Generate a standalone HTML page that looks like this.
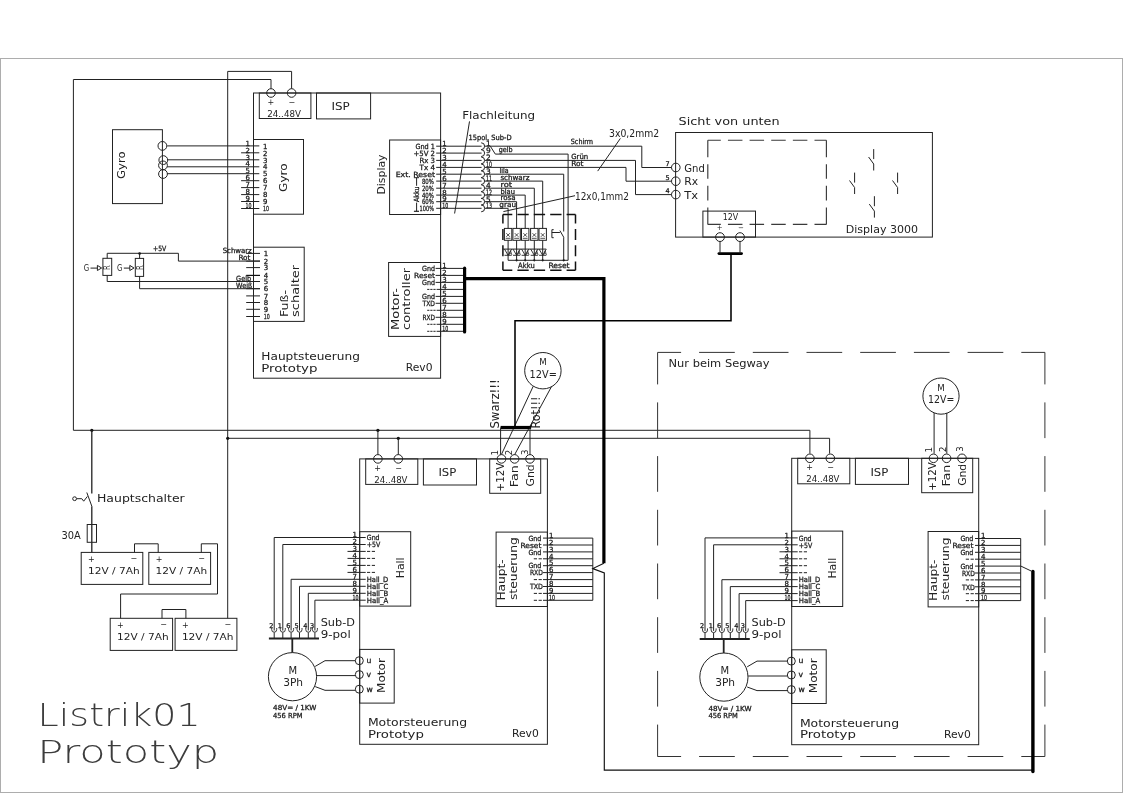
<!DOCTYPE html>
<html><head><meta charset="utf-8"><title>Listrik01 Prototyp</title>
<style>
html,body{margin:0;padding:0;background:#fff;}
svg{display:block;will-change:transform}
.t{font-family:"DejaVu Sans","Liberation Sans",sans-serif;fill:#222;}
.s{font-family:"DejaVu Sans","Liberation Sans",sans-serif;fill:#111;stroke:#222;stroke-width:0.28px;}
.big{font-family:"DejaVu Sans Light","DejaVu Sans","Liberation Sans",sans-serif;font-weight:200;fill:#3c3c3c;}
</style></head><body>
<svg width="1123" height="793" viewBox="0 0 1123 793">
<rect x="0" y="0" width="1123" height="793" fill="#fff"/>
<rect x="0.5" y="58.5" width="1122.0" height="734.0" fill="none" stroke="#adadad" stroke-width="1" />
<rect x="253.5" y="93.0" width="187.1" height="285.2" fill="none" stroke="#222" stroke-width="1.0" />
<rect x="259.3" y="93.0" width="51.6" height="25.5" fill="none" stroke="#222" stroke-width="1.0" />
<circle cx="271.0" cy="93.0" r="4.3" fill="none" stroke="#222" stroke-width="1.0"/>
<circle cx="291.6" cy="93.0" r="4.3" fill="none" stroke="#222" stroke-width="1.0"/>
<text class="t" x="270.8" y="105.3" font-size="8" text-anchor="middle">+</text>
<text class="t" x="291.8" y="104.8" font-size="8" text-anchor="middle">−</text>
<text class="t" x="267.3" y="116.6" font-size="8.5" textLength="33.6" lengthAdjust="spacingAndGlyphs">24..48V</text>
<rect x="316.5" y="93.0" width="54.1" height="25.9" fill="none" stroke="#222" stroke-width="1.0" />
<text class="t" x="331.5" y="110.3" font-size="11.0" textLength="18.3" lengthAdjust="spacingAndGlyphs">ISP</text>
<rect x="253.5" y="139.5" width="50.0" height="74.7" fill="none" stroke="#222" stroke-width="1.0" />
<line x1="167.2" y1="145.9" x2="259.3" y2="145.9" stroke="#222" stroke-width="1.0" />
<text class="s" x="245.6" y="145.6" font-size="6.96">1</text>
<text class="s" x="263.0" y="148.6" font-size="6.96">1</text>
<line x1="241.1" y1="152.8" x2="259.3" y2="152.8" stroke="#222" stroke-width="1.0" />
<text class="s" x="245.6" y="152.5" font-size="6.96">2</text>
<text class="s" x="263.0" y="155.5" font-size="6.96">2</text>
<line x1="167.2" y1="159.8" x2="259.3" y2="159.8" stroke="#222" stroke-width="1.0" />
<text class="s" x="245.6" y="159.5" font-size="6.96">3</text>
<text class="s" x="263.0" y="162.5" font-size="6.96">3</text>
<line x1="167.2" y1="166.8" x2="259.3" y2="166.8" stroke="#222" stroke-width="1.0" />
<text class="s" x="245.6" y="166.4" font-size="6.96">4</text>
<text class="s" x="263.0" y="169.4" font-size="6.96">4</text>
<line x1="167.2" y1="173.7" x2="259.3" y2="173.7" stroke="#222" stroke-width="1.0" />
<text class="s" x="245.6" y="173.4" font-size="6.96">5</text>
<text class="s" x="263.0" y="176.4" font-size="6.96">5</text>
<line x1="241.1" y1="180.7" x2="259.3" y2="180.7" stroke="#222" stroke-width="1.0" />
<text class="s" x="245.6" y="180.3" font-size="6.96">6</text>
<text class="s" x="263.0" y="183.3" font-size="6.96">6</text>
<line x1="241.1" y1="187.6" x2="259.3" y2="187.6" stroke="#222" stroke-width="1.0" />
<text class="s" x="245.6" y="187.3" font-size="6.96">7</text>
<text class="s" x="263.0" y="190.3" font-size="6.96">7</text>
<line x1="241.1" y1="194.6" x2="259.3" y2="194.6" stroke="#222" stroke-width="1.0" />
<text class="s" x="245.6" y="194.2" font-size="6.96">8</text>
<text class="s" x="263.0" y="197.2" font-size="6.96">8</text>
<line x1="241.1" y1="201.5" x2="259.3" y2="201.5" stroke="#222" stroke-width="1.0" />
<text class="s" x="245.6" y="201.2" font-size="6.96">9</text>
<text class="s" x="263.0" y="204.2" font-size="6.96">9</text>
<line x1="241.1" y1="208.5" x2="259.3" y2="208.5" stroke="#222" stroke-width="1.0" />
<text class="s" x="245.6" y="208.2" font-size="6.96" textLength="6.0" lengthAdjust="spacingAndGlyphs">10</text>
<text class="s" x="263.0" y="211.2" font-size="6.96" textLength="6.0" lengthAdjust="spacingAndGlyphs">10</text>
<text class="t" x="287.5" y="191.9" font-size="10.4" textLength="28.4" lengthAdjust="spacingAndGlyphs" transform="rotate(-90 287.5 191.9)">Gyro</text>
<rect x="112.5" y="129.7" width="49.9" height="73.9" fill="none" stroke="#222" stroke-width="1.0" />
<circle cx="162.4" cy="145.9" r="4.4" fill="none" stroke="#222" stroke-width="1.0"/>
<circle cx="163.3" cy="160.1" r="4.4" fill="none" stroke="#222" stroke-width="1.0"/>
<circle cx="163.0" cy="165.4" r="4.4" fill="none" stroke="#222" stroke-width="1.0"/>
<circle cx="163.0" cy="174.0" r="4.4" fill="none" stroke="#222" stroke-width="1.0"/>
<text class="t" x="125.2" y="178.9" font-size="10.4" textLength="27.4" lengthAdjust="spacingAndGlyphs" transform="rotate(-90 125.2 178.9)">Gyro</text>
<rect x="253.5" y="247.2" width="50.7" height="74.2" fill="none" stroke="#222" stroke-width="1.0" />
<line x1="246.2" y1="253.4" x2="260.0" y2="253.4" stroke="#222" stroke-width="1.0" />
<text class="s" x="263.7" y="256.1" font-size="6.96">1</text>
<line x1="246.2" y1="261.1" x2="260.0" y2="261.1" stroke="#222" stroke-width="1.0" />
<text class="s" x="263.7" y="263.8" font-size="6.96">2</text>
<line x1="246.2" y1="267.6" x2="260.0" y2="267.6" stroke="#222" stroke-width="1.0" />
<text class="s" x="263.7" y="270.3" font-size="6.96">3</text>
<line x1="246.2" y1="275.4" x2="260.0" y2="275.4" stroke="#111" stroke-width="1.2" />
<text class="s" x="263.7" y="278.1" font-size="6.96">4</text>
<line x1="246.2" y1="281.5" x2="260.0" y2="281.5" stroke="#222" stroke-width="1.0" />
<text class="s" x="263.7" y="284.2" font-size="6.96">5</text>
<line x1="246.2" y1="288.7" x2="260.0" y2="288.7" stroke="#222" stroke-width="1.0" />
<text class="s" x="263.7" y="291.4" font-size="6.96">6</text>
<line x1="246.2" y1="295.9" x2="260.0" y2="295.9" stroke="#222" stroke-width="1.0" />
<text class="s" x="263.7" y="298.6" font-size="6.96">7</text>
<line x1="246.2" y1="302.5" x2="260.0" y2="302.5" stroke="#222" stroke-width="1.0" />
<text class="s" x="263.7" y="305.2" font-size="6.96">8</text>
<line x1="246.2" y1="309.3" x2="260.0" y2="309.3" stroke="#222" stroke-width="1.0" />
<text class="s" x="263.7" y="312.0" font-size="6.96">9</text>
<line x1="246.2" y1="316.5" x2="260.0" y2="316.5" stroke="#222" stroke-width="1.0" />
<text class="s" x="263.7" y="319.2" font-size="6.96" textLength="6.0" lengthAdjust="spacingAndGlyphs">10</text>
<text class="s" x="222.7" y="252.8" font-size="7.19" textLength="29.0" lengthAdjust="spacingAndGlyphs">Schwarz</text>
<text class="s" x="238.4" y="259.9" font-size="7.19" textLength="12.0" lengthAdjust="spacingAndGlyphs">Rot</text>
<text class="s" x="236.1" y="280.5" font-size="7.19" textLength="15.0" lengthAdjust="spacingAndGlyphs">Gelb</text>
<text class="s" x="236.1" y="287.6" font-size="7.19" textLength="16.0" lengthAdjust="spacingAndGlyphs">Weiß</text>
<text class="t" x="287.8" y="317.0" font-size="10.4" textLength="27.0" lengthAdjust="spacingAndGlyphs" transform="rotate(-90 287.8 317.0)">Fuß-</text>
<text class="t" x="299.3" y="317.0" font-size="10.4" textLength="52.2" lengthAdjust="spacingAndGlyphs" transform="rotate(-90 299.3 317.0)">schalter</text>
<polyline points="107.2,258.3 107.2,253.3 178.4,253.3 178.4,261.1 260.0,261.1" fill="none" stroke="#222" stroke-width="1.0" />
<circle cx="139.6" cy="253.6" r="1.3" fill="#111"/>
<rect x="102.9" y="258.3" width="8.8" height="17.1" fill="none" stroke="#222" stroke-width="1.0" />
<rect x="135.3" y="258.4" width="8.3" height="18.0" fill="none" stroke="#222" stroke-width="1.0" />
<line x1="139.6" y1="253.3" x2="139.6" y2="258.4" stroke="#222" stroke-width="1.0" />
<polyline points="107.2,275.4 107.2,281.5 260.0,281.5" fill="none" stroke="#222" stroke-width="1.0" />
<polyline points="139.6,276.4 139.6,288.7 260.0,288.7" fill="none" stroke="#222" stroke-width="1.0" />
<text class="s" x="153.0" y="250.8" font-size="7.19" textLength="13.3" lengthAdjust="spacingAndGlyphs">+5V</text>
<text class="t" x="83.8" y="270.7" font-size="8.8" textLength="5.4" lengthAdjust="spacingAndGlyphs">G</text>
<line x1="90.5" y1="268.1" x2="97.4" y2="268.1" stroke="#222" stroke-width="1.0" />
<polyline points="97.4,265.4 101.6,268.0 97.4,270.5 97.4,265.4" fill="none" stroke="#222" stroke-width="1.0" />
<text class="t" x="110.3" y="270.1" font-size="8.2" textLength="4.7" lengthAdjust="spacingAndGlyphs" transform="rotate(-90 110.3 270.1)">R</text>
<text class="t" x="117.1" y="270.7" font-size="8.8" textLength="5.4" lengthAdjust="spacingAndGlyphs">G</text>
<line x1="123.8" y1="268.1" x2="129.8" y2="268.1" stroke="#222" stroke-width="1.0" />
<polyline points="129.8,265.4 134.0,268.0 129.8,270.5 129.8,265.4" fill="none" stroke="#222" stroke-width="1.0" />
<text class="t" x="142.7" y="270.1" font-size="8.2" textLength="4.7" lengthAdjust="spacingAndGlyphs" transform="rotate(-90 142.7 270.1)">R</text>
<rect x="389.6" y="140.0" width="51.0" height="74.5" fill="none" stroke="#222" stroke-width="1.0" />
<line x1="436.2" y1="146.2" x2="481.6" y2="146.2" stroke="#222" stroke-width="1.0" />
<text class="s" x="435.0" y="148.8" font-size="7.19" textLength="19.6" lengthAdjust="spacingAndGlyphs" text-anchor="end">Gnd 1</text>
<text class="s" x="442.3" y="145.8" font-size="6.96">1</text>
<path d="M481.2,142.8 A3.4,3.4 0 0 1 481.2,149.6" fill="none" stroke="#222" stroke-width="1"/>
<text class="s" x="486.0" y="146.0" font-size="7.42">1</text>
<line x1="436.2" y1="153.1" x2="481.6" y2="153.1" stroke="#222" stroke-width="1.0" />
<text class="s" x="435.0" y="155.8" font-size="7.19" textLength="21.5" lengthAdjust="spacingAndGlyphs" text-anchor="end">+5V 2</text>
<text class="s" x="442.3" y="152.8" font-size="6.96">2</text>
<path d="M481.2,149.7 A3.4,3.4 0 0 1 481.2,156.5" fill="none" stroke="#222" stroke-width="1"/>
<text class="s" x="486.0" y="152.9" font-size="7.42">9</text>
<line x1="436.2" y1="160.4" x2="481.6" y2="160.4" stroke="#222" stroke-width="1.0" />
<text class="s" x="435.0" y="163.1" font-size="7.19" textLength="15.5" lengthAdjust="spacingAndGlyphs" text-anchor="end">Rx 3</text>
<text class="s" x="442.3" y="160.1" font-size="6.96">3</text>
<path d="M481.2,157.0 A3.4,3.4 0 0 1 481.2,163.8" fill="none" stroke="#222" stroke-width="1"/>
<text class="s" x="486.0" y="160.2" font-size="7.42">2</text>
<line x1="436.2" y1="167.4" x2="481.6" y2="167.4" stroke="#222" stroke-width="1.0" />
<text class="s" x="435.0" y="170.1" font-size="7.19" textLength="15.5" lengthAdjust="spacingAndGlyphs" text-anchor="end">Tx 4</text>
<text class="s" x="442.3" y="167.1" font-size="6.96">4</text>
<path d="M481.2,164.0 A3.4,3.4 0 0 1 481.2,170.8" fill="none" stroke="#222" stroke-width="1"/>
<text class="s" x="486.0" y="167.2" font-size="7.42" textLength="6.0" lengthAdjust="spacingAndGlyphs">10</text>
<line x1="436.2" y1="174.2" x2="481.6" y2="174.2" stroke="#222" stroke-width="1.0" />
<text class="s" x="435.0" y="176.9" font-size="7.19" textLength="39.3" lengthAdjust="spacingAndGlyphs" text-anchor="end">Ext. Reset</text>
<text class="s" x="442.3" y="173.9" font-size="6.96">5</text>
<path d="M481.2,170.8 A3.4,3.4 0 0 1 481.2,177.6" fill="none" stroke="#222" stroke-width="1"/>
<text class="s" x="486.0" y="174.0" font-size="7.42">3</text>
<line x1="436.2" y1="181.1" x2="481.6" y2="181.1" stroke="#222" stroke-width="1.0" />
<text class="s" x="433.9" y="183.8" font-size="7.19" textLength="12.0" lengthAdjust="spacingAndGlyphs" text-anchor="end">80%</text>
<text class="s" x="442.3" y="180.8" font-size="6.96">6</text>
<path d="M481.2,177.7 A3.4,3.4 0 0 1 481.2,184.5" fill="none" stroke="#222" stroke-width="1"/>
<text class="s" x="486.0" y="180.9" font-size="7.42" textLength="6.0" lengthAdjust="spacingAndGlyphs">11</text>
<line x1="436.2" y1="188.2" x2="481.6" y2="188.2" stroke="#222" stroke-width="1.0" />
<text class="s" x="433.9" y="190.9" font-size="7.19" textLength="12.0" lengthAdjust="spacingAndGlyphs" text-anchor="end">20%</text>
<text class="s" x="442.3" y="187.9" font-size="6.96">7</text>
<path d="M481.2,184.8 A3.4,3.4 0 0 1 481.2,191.6" fill="none" stroke="#222" stroke-width="1"/>
<text class="s" x="486.0" y="188.0" font-size="7.42">4</text>
<line x1="436.2" y1="195.1" x2="481.6" y2="195.1" stroke="#222" stroke-width="1.0" />
<text class="s" x="433.9" y="197.8" font-size="7.19" textLength="12.0" lengthAdjust="spacingAndGlyphs" text-anchor="end">40%</text>
<text class="s" x="442.3" y="194.8" font-size="6.96">8</text>
<path d="M481.2,191.7 A3.4,3.4 0 0 1 481.2,198.5" fill="none" stroke="#222" stroke-width="1"/>
<text class="s" x="486.0" y="194.9" font-size="7.42" textLength="6.0" lengthAdjust="spacingAndGlyphs">12</text>
<line x1="436.2" y1="201.7" x2="481.6" y2="201.7" stroke="#222" stroke-width="1.0" />
<text class="s" x="433.9" y="204.4" font-size="7.19" textLength="12.0" lengthAdjust="spacingAndGlyphs" text-anchor="end">60%</text>
<text class="s" x="442.3" y="201.4" font-size="6.96">9</text>
<path d="M481.2,198.3 A3.4,3.4 0 0 1 481.2,205.1" fill="none" stroke="#222" stroke-width="1"/>
<text class="s" x="486.0" y="201.5" font-size="7.42">5</text>
<line x1="436.2" y1="208.3" x2="481.6" y2="208.3" stroke="#222" stroke-width="1.0" />
<text class="s" x="433.9" y="211.0" font-size="7.19" textLength="14.3" lengthAdjust="spacingAndGlyphs" text-anchor="end">100%</text>
<text class="s" x="442.3" y="208.0" font-size="6.96" textLength="6.0" lengthAdjust="spacingAndGlyphs">10</text>
<path d="M481.2,204.9 A3.4,3.4 0 0 1 481.2,211.8" fill="none" stroke="#222" stroke-width="1"/>
<text class="s" x="486.0" y="208.2" font-size="7.42" textLength="6.0" lengthAdjust="spacingAndGlyphs">13</text>
<text class="t" x="385.3" y="194.5" font-size="10.4" textLength="40.0" lengthAdjust="spacingAndGlyphs" transform="rotate(-90 385.3 194.5)">Display</text>
<line x1="416.6" y1="177.7" x2="416.6" y2="185.8" stroke="#222" stroke-width="1.0" />
<line x1="416.6" y1="202.6" x2="416.6" y2="211.3" stroke="#222" stroke-width="1.0" />
<line x1="413.9" y1="177.7" x2="419.0" y2="177.7" stroke="#222" stroke-width="1.0" />
<line x1="413.9" y1="211.3" x2="419.0" y2="211.3" stroke="#222" stroke-width="1.2" />
<text class="s" x="418.5" y="202.0" font-size="7.19" textLength="15.6" lengthAdjust="spacingAndGlyphs" transform="rotate(-90 418.5 202.0)">Akku</text>
<text class="s" x="468.4" y="139.8" font-size="7.19" textLength="43.3" lengthAdjust="spacingAndGlyphs">15pol. Sub-D</text>
<text class="t" x="462.2" y="118.6" font-size="10.6" textLength="73.0" lengthAdjust="spacingAndGlyphs">Flachleitung</text>
<line x1="469.5" y1="121.4" x2="454.6" y2="213.5" stroke="#222" stroke-width="1.0" />
<rect x="388.6" y="262.5" width="52.0" height="73.9" fill="none" stroke="#222" stroke-width="1.0" />
<line x1="435.6" y1="268.4" x2="464.6" y2="268.4" stroke="#222" stroke-width="1.0" />
<text class="s" x="435.0" y="271.1" font-size="7.19" textLength="13.0" lengthAdjust="spacingAndGlyphs" text-anchor="end">Gnd</text>
<text class="s" x="442.3" y="268.1" font-size="6.96">1</text>
<line x1="435.6" y1="275.4" x2="464.6" y2="275.4" stroke="#222" stroke-width="1.0" />
<text class="s" x="435.0" y="278.1" font-size="7.19" textLength="21.0" lengthAdjust="spacingAndGlyphs" text-anchor="end">Reset</text>
<text class="s" x="442.3" y="275.1" font-size="6.96">2</text>
<line x1="435.6" y1="282.4" x2="464.6" y2="282.4" stroke="#222" stroke-width="1.0" />
<text class="s" x="435.0" y="285.1" font-size="7.19" textLength="13.0" lengthAdjust="spacingAndGlyphs" text-anchor="end">Gnd</text>
<text class="s" x="442.3" y="282.1" font-size="6.96">3</text>
<line x1="427.2" y1="289.4" x2="435.6" y2="289.4" stroke="#222" stroke-width="1" stroke-dasharray="2.2 0.9"/>
<line x1="436.6" y1="289.4" x2="464.6" y2="289.4" stroke="#222" stroke-width="1.0" />
<text class="s" x="442.3" y="289.1" font-size="6.96">4</text>
<line x1="435.6" y1="296.4" x2="464.6" y2="296.4" stroke="#222" stroke-width="1.0" />
<text class="s" x="435.0" y="299.1" font-size="7.19" textLength="13.0" lengthAdjust="spacingAndGlyphs" text-anchor="end">Gnd</text>
<text class="s" x="442.3" y="296.1" font-size="6.96">5</text>
<line x1="435.6" y1="303.3" x2="464.6" y2="303.3" stroke="#222" stroke-width="1.0" />
<text class="s" x="435.0" y="306.0" font-size="7.19" textLength="12.5" lengthAdjust="spacingAndGlyphs" text-anchor="end">TXD</text>
<text class="s" x="442.3" y="303.0" font-size="6.96">6</text>
<line x1="427.2" y1="310.3" x2="435.6" y2="310.3" stroke="#222" stroke-width="1" stroke-dasharray="2.2 0.9"/>
<line x1="436.6" y1="310.3" x2="464.6" y2="310.3" stroke="#222" stroke-width="1.0" />
<text class="s" x="442.3" y="310.0" font-size="6.96">7</text>
<line x1="435.6" y1="317.3" x2="464.6" y2="317.3" stroke="#222" stroke-width="1.0" />
<text class="s" x="435.0" y="320.0" font-size="7.19" textLength="12.5" lengthAdjust="spacingAndGlyphs" text-anchor="end">RXD</text>
<text class="s" x="442.3" y="317.0" font-size="6.96">8</text>
<line x1="427.2" y1="324.3" x2="435.6" y2="324.3" stroke="#222" stroke-width="1" stroke-dasharray="2.2 0.9"/>
<line x1="436.6" y1="324.3" x2="464.6" y2="324.3" stroke="#222" stroke-width="1.0" />
<text class="s" x="442.3" y="324.0" font-size="6.96">9</text>
<line x1="427.2" y1="331.3" x2="435.6" y2="331.3" stroke="#222" stroke-width="1" stroke-dasharray="2.2 0.9"/>
<line x1="436.6" y1="331.3" x2="464.6" y2="331.3" stroke="#222" stroke-width="1.0" />
<text class="s" x="442.3" y="331.0" font-size="6.96" textLength="6.0" lengthAdjust="spacingAndGlyphs">10</text>
<text class="t" x="398.9" y="330.0" font-size="10.4" textLength="42.0" lengthAdjust="spacingAndGlyphs" transform="rotate(-90 398.9 330.0)">Motor-</text>
<text class="t" x="410.0" y="330.0" font-size="10.4" textLength="62.0" lengthAdjust="spacingAndGlyphs" transform="rotate(-90 410.0 330.0)">controller</text>
<text class="t" x="261.3" y="359.5" font-size="10.4" textLength="98.7" lengthAdjust="spacingAndGlyphs">Hauptsteuerung</text>
<text class="t" x="261.3" y="372.0" font-size="10.4" textLength="56.2" lengthAdjust="spacingAndGlyphs">Prototyp</text>
<text class="t" x="405.7" y="371.3" font-size="10.4" textLength="26.8" lengthAdjust="spacingAndGlyphs">Rev0</text>
<polyline points="271.0,88.7 271.0,79.5 73.4,79.5 73.4,430.3 809.9,430.3 809.9,453.6" fill="none" stroke="#222" stroke-width="1.0" />
<polyline points="291.6,88.7 291.6,71.4 227.7,71.4 227.7,618.3" fill="none" stroke="#222" stroke-width="1.0" />
<polyline points="227.7,438.3 829.6,438.3 829.6,453.6" fill="none" stroke="#222" stroke-width="1.0" />
<circle cx="91.8" cy="430.3" r="1.6" fill="#111"/>
<circle cx="227.7" cy="438.3" r="1.6" fill="#111"/>
<circle cx="377.9" cy="430.3" r="1.6" fill="#111"/>
<circle cx="398.3" cy="438.3" r="1.6" fill="#111"/>
<line x1="377.9" y1="430.3" x2="377.9" y2="454.6" stroke="#222" stroke-width="1.0" />
<line x1="398.3" y1="438.3" x2="398.3" y2="454.6" stroke="#222" stroke-width="1.0" />
<line x1="91.8" y1="430.3" x2="91.8" y2="493.5" stroke="#222" stroke-width="1.3" />
<line x1="86.8" y1="492.5" x2="91.8" y2="506.2" stroke="#222" stroke-width="1.0" />
<line x1="91.8" y1="506.2" x2="91.8" y2="552.4" stroke="#222" stroke-width="1.3" />
<circle cx="74.6" cy="498.7" r="1.9" fill="none" stroke="#222" stroke-width="1.0"/>
<polyline points="76.8,498.7 81.8,498.7 83.7,501.2 87.4,496.4" fill="none" stroke="#222" stroke-width="1.0" />
<text class="t" x="97.0" y="501.8" font-size="10.4" textLength="87.7" lengthAdjust="spacingAndGlyphs">Hauptschalter</text>
<rect x="87.2" y="524.5" width="9.3" height="17.8" fill="none" stroke="#222" stroke-width="1.0" />
<text class="t" x="61.5" y="538.6" font-size="10.4" textLength="19.3" lengthAdjust="spacingAndGlyphs">30A</text>
<rect x="81.2" y="552.4" width="61.6" height="32.0" fill="none" stroke="#222" stroke-width="1.0" />
<text class="t" x="91.4" y="561.6" font-size="8" text-anchor="middle">+</text>
<text class="t" x="133.8" y="561.2" font-size="8" text-anchor="middle">−</text>
<text class="t" x="88.0" y="573.9" font-size="9" textLength="51.6" lengthAdjust="spacingAndGlyphs">12V / 7Ah</text>
<rect x="148.8" y="552.4" width="61.8" height="32.0" fill="none" stroke="#222" stroke-width="1.0" />
<text class="t" x="159.0" y="561.6" font-size="8" text-anchor="middle">+</text>
<text class="t" x="201.6" y="561.2" font-size="8" text-anchor="middle">−</text>
<text class="t" x="155.6" y="573.9" font-size="9" textLength="51.6" lengthAdjust="spacingAndGlyphs">12V / 7Ah</text>
<rect x="110.2" y="618.3" width="62.4" height="32.1" fill="none" stroke="#222" stroke-width="1.0" />
<text class="t" x="120.4" y="627.5" font-size="8" text-anchor="middle">+</text>
<text class="t" x="163.6" y="627.1" font-size="8" text-anchor="middle">−</text>
<text class="t" x="117.0" y="639.8" font-size="9" textLength="51.6" lengthAdjust="spacingAndGlyphs">12V / 7Ah</text>
<rect x="175.1" y="618.3" width="61.8" height="32.1" fill="none" stroke="#222" stroke-width="1.0" />
<text class="t" x="185.3" y="627.5" font-size="8" text-anchor="middle">+</text>
<text class="t" x="227.9" y="627.1" font-size="8" text-anchor="middle">−</text>
<text class="t" x="181.9" y="639.8" font-size="9" textLength="51.6" lengthAdjust="spacingAndGlyphs">12V / 7Ah</text>
<polyline points="134.5,552.4 134.5,543.8 158.2,543.8 158.2,552.4" fill="none" stroke="#222" stroke-width="1.0" />
<polyline points="201.3,552.4 201.3,543.8 217.5,543.8 217.5,594.0 120.6,594.0 120.6,618.3" fill="none" stroke="#222" stroke-width="1.0" />
<polyline points="162.0,618.3 162.0,609.5 185.9,609.5 185.9,618.3" fill="none" stroke="#222" stroke-width="1.0" />
<text class="big" x="37.6" y="725.6" font-size="32.5" textLength="163.0" lengthAdjust="spacingAndGlyphs">Listrik01</text>
<text class="big" x="37.2" y="763.2" font-size="32.5" textLength="182.0" lengthAdjust="spacingAndGlyphs">Prototyp</text>
<rect x="359.7" y="458.9" width="187.7" height="285.4" fill="none" stroke="#222" stroke-width="1.0" />
<rect x="365.7" y="458.9" width="52.1" height="25.5" fill="none" stroke="#222" stroke-width="1.0" />
<circle cx="377.9" cy="458.9" r="4.3" fill="none" stroke="#222" stroke-width="1.0"/>
<circle cx="398.3" cy="458.9" r="4.3" fill="none" stroke="#222" stroke-width="1.0"/>
<text class="t" x="377.7" y="471.0" font-size="8" text-anchor="middle">+</text>
<text class="t" x="398.5" y="470.6" font-size="8" text-anchor="middle">−</text>
<text class="t" x="374.3" y="482.6" font-size="8.3" textLength="33.2" lengthAdjust="spacingAndGlyphs">24..48V</text>
<rect x="423.4" y="458.9" width="53.1" height="26.1" fill="none" stroke="#222" stroke-width="1.0" />
<text class="t" x="438.4" y="476.1" font-size="10.4" textLength="17.9" lengthAdjust="spacingAndGlyphs">ISP</text>
<rect x="489.7" y="458.9" width="51.0" height="34.4" fill="none" stroke="#222" stroke-width="1.0" />
<circle cx="501.5" cy="458.9" r="4.3" fill="none" stroke="#222" stroke-width="1.0"/>
<circle cx="514.6" cy="458.9" r="4.3" fill="none" stroke="#222" stroke-width="1.0"/>
<circle cx="530.0" cy="458.9" r="4.3" fill="none" stroke="#222" stroke-width="1.0"/>
<text class="t" x="504.3" y="491.4" font-size="10.4" textLength="28.6" lengthAdjust="spacingAndGlyphs" transform="rotate(-90 504.3 491.4)">+12V</text>
<text class="t" x="517.6" y="487.2" font-size="10.4" textLength="22.0" lengthAdjust="spacingAndGlyphs" transform="rotate(-90 517.6 487.2)">Fan</text>
<text class="t" x="533.9" y="486.4" font-size="10.4" textLength="22.0" lengthAdjust="spacingAndGlyphs" transform="rotate(-90 533.9 486.4)">Gnd</text>
<text class="t" x="498.1" y="455.6" font-size="8.6" transform="rotate(-90 498.1 455.6)">1</text>
<text class="t" x="512.2" y="455.2" font-size="8.6" transform="rotate(-90 512.2 455.2)">2</text>
<text class="t" x="528.4" y="455.0" font-size="8.6" transform="rotate(-90 528.4 455.0)">3</text>
<rect x="359.7" y="531.7" width="51.0" height="74.4" fill="none" stroke="#222" stroke-width="1.0" />
<line x1="274.2" y1="537.5" x2="365.7" y2="537.5" stroke="#222" stroke-width="1.0" />
<line x1="274.2" y1="537.5" x2="274.2" y2="630.5" stroke="#222" stroke-width="1.0" />
<text class="s" x="366.8" y="540.2" font-size="7.19" textLength="12.8" lengthAdjust="spacingAndGlyphs">Gnd</text>
<text class="s" x="352.5" y="537.2" font-size="6.96">1</text>
<line x1="282.8" y1="544.5" x2="365.7" y2="544.5" stroke="#222" stroke-width="1.0" />
<line x1="282.8" y1="544.5" x2="282.8" y2="630.5" stroke="#222" stroke-width="1.0" />
<text class="s" x="366.8" y="547.2" font-size="7.19" textLength="13.5" lengthAdjust="spacingAndGlyphs">+5V</text>
<text class="s" x="352.5" y="544.2" font-size="6.96">2</text>
<line x1="347.5" y1="551.4" x2="365.7" y2="551.4" stroke="#222" stroke-width="1.0" />
<line x1="367.0" y1="551.4" x2="375.0" y2="551.4" stroke="#222" stroke-width="1" stroke-dasharray="3.2 1.6"/>
<text class="s" x="352.5" y="551.1" font-size="6.96">3</text>
<line x1="347.5" y1="558.4" x2="365.7" y2="558.4" stroke="#222" stroke-width="1.0" />
<line x1="367.0" y1="558.4" x2="375.0" y2="558.4" stroke="#222" stroke-width="1" stroke-dasharray="3.2 1.6"/>
<text class="s" x="352.5" y="558.1" font-size="6.96">4</text>
<line x1="347.5" y1="565.4" x2="365.7" y2="565.4" stroke="#222" stroke-width="1.0" />
<line x1="367.0" y1="565.4" x2="375.0" y2="565.4" stroke="#222" stroke-width="1" stroke-dasharray="3.2 1.6"/>
<text class="s" x="352.5" y="565.1" font-size="6.96">5</text>
<line x1="347.5" y1="572.4" x2="365.7" y2="572.4" stroke="#222" stroke-width="1.0" />
<line x1="367.0" y1="572.4" x2="375.0" y2="572.4" stroke="#222" stroke-width="1" stroke-dasharray="3.2 1.6"/>
<text class="s" x="352.5" y="572.1" font-size="6.96">6</text>
<line x1="291.1" y1="579.3" x2="365.7" y2="579.3" stroke="#222" stroke-width="1.0" />
<line x1="291.1" y1="579.3" x2="291.1" y2="630.5" stroke="#222" stroke-width="1.0" />
<text class="s" x="366.8" y="582.0" font-size="7.19" textLength="21.4" lengthAdjust="spacingAndGlyphs">Hall_D</text>
<text class="s" x="352.5" y="579.0" font-size="6.96">7</text>
<line x1="299.5" y1="586.3" x2="365.7" y2="586.3" stroke="#222" stroke-width="1.0" />
<line x1="299.5" y1="586.3" x2="299.5" y2="630.5" stroke="#222" stroke-width="1.0" />
<text class="s" x="366.8" y="589.0" font-size="7.19" textLength="21.4" lengthAdjust="spacingAndGlyphs">Hall_C</text>
<text class="s" x="352.5" y="586.0" font-size="6.96">8</text>
<line x1="308.3" y1="593.3" x2="365.7" y2="593.3" stroke="#222" stroke-width="1.0" />
<line x1="308.3" y1="593.3" x2="308.3" y2="630.5" stroke="#222" stroke-width="1.0" />
<text class="s" x="366.8" y="596.0" font-size="7.19" textLength="21.4" lengthAdjust="spacingAndGlyphs">Hall_B</text>
<text class="s" x="352.5" y="593.0" font-size="6.96">9</text>
<line x1="314.9" y1="600.2" x2="365.7" y2="600.2" stroke="#222" stroke-width="1.0" />
<line x1="314.9" y1="600.2" x2="314.9" y2="630.5" stroke="#222" stroke-width="1.0" />
<text class="s" x="366.8" y="602.9" font-size="7.19" textLength="21.4" lengthAdjust="spacingAndGlyphs">Hall_A</text>
<text class="s" x="352.5" y="599.9" font-size="6.96" textLength="6.0" lengthAdjust="spacingAndGlyphs">10</text>
<text class="t" x="404.3" y="578.2" font-size="10.4" textLength="20.8" lengthAdjust="spacingAndGlyphs" transform="rotate(-90 404.3 578.2)">Hall</text>
<path d="M271.7,628.0 V629.6 A2.5,2.6 0 0 0 276.7,629.6 V628.0" fill="none" stroke="#222" stroke-width="0.9"/>
<line x1="274.2" y1="632.4" x2="274.2" y2="638.6" stroke="#222" stroke-width="1.0" />
<text class="s" x="273.4" y="627.5" font-size="6.5" text-anchor="end">2</text>
<path d="M280.3,628.0 V629.6 A2.5,2.6 0 0 0 285.3,629.6 V628.0" fill="none" stroke="#222" stroke-width="0.9"/>
<line x1="282.8" y1="632.4" x2="282.8" y2="638.6" stroke="#222" stroke-width="1.0" />
<text class="s" x="282.0" y="627.5" font-size="6.5" text-anchor="end">1</text>
<path d="M288.6,628.0 V629.6 A2.5,2.6 0 0 0 293.6,629.6 V628.0" fill="none" stroke="#222" stroke-width="0.9"/>
<line x1="291.1" y1="632.4" x2="291.1" y2="638.6" stroke="#222" stroke-width="1.0" />
<text class="s" x="290.3" y="627.5" font-size="6.5" text-anchor="end">6</text>
<path d="M297.0,628.0 V629.6 A2.5,2.6 0 0 0 302.0,629.6 V628.0" fill="none" stroke="#222" stroke-width="0.9"/>
<line x1="299.5" y1="632.4" x2="299.5" y2="638.6" stroke="#222" stroke-width="1.0" />
<text class="s" x="298.7" y="627.5" font-size="6.5" text-anchor="end">5</text>
<path d="M305.8,628.0 V629.6 A2.5,2.6 0 0 0 310.8,629.6 V628.0" fill="none" stroke="#222" stroke-width="0.9"/>
<line x1="308.3" y1="632.4" x2="308.3" y2="638.6" stroke="#222" stroke-width="1.0" />
<text class="s" x="307.5" y="627.5" font-size="6.5" text-anchor="end">4</text>
<path d="M312.4,628.0 V629.6 A2.5,2.6 0 0 0 317.4,629.6 V628.0" fill="none" stroke="#222" stroke-width="0.9"/>
<line x1="314.9" y1="632.4" x2="314.9" y2="638.6" stroke="#222" stroke-width="1.0" />
<text class="s" x="314.1" y="627.5" font-size="6.5" text-anchor="end">3</text>
<line x1="268.9" y1="638.6" x2="319.0" y2="638.6" stroke="#222" stroke-width="2" />
<line x1="292.3" y1="638.6" x2="292.3" y2="652.6" stroke="#222" stroke-width="1.8" />
<text class="t" x="320.7" y="625.8" font-size="10.4" textLength="34.3" lengthAdjust="spacingAndGlyphs">Sub-D</text>
<text class="t" x="320.7" y="637.6" font-size="10.4" textLength="30.0" lengthAdjust="spacingAndGlyphs">9-pol</text>
<circle cx="292.5" cy="676.7" r="24.1" fill="none" stroke="#222" stroke-width="1.0"/>
<text class="t" x="292.9" y="673.6" font-size="10" text-anchor="middle">M</text>
<text class="t" x="283.2" y="685.8" font-size="10.4" textLength="19.9" lengthAdjust="spacingAndGlyphs">3Ph</text>
<text class="s" x="273.1" y="710.4" font-size="6.96" textLength="43.3" lengthAdjust="spacingAndGlyphs">48V= / 1KW</text>
<text class="s" x="273.1" y="717.5" font-size="6.96" textLength="29.4" lengthAdjust="spacingAndGlyphs">456 RPM</text>
<rect x="359.7" y="649.4" width="34.5" height="53.7" fill="none" stroke="#222" stroke-width="1.0" />
<circle cx="359.3" cy="660.7" r="4.0" fill="none" stroke="#222" stroke-width="1.0"/>
<circle cx="359.3" cy="674.6" r="4.0" fill="none" stroke="#222" stroke-width="1.0"/>
<circle cx="359.3" cy="689.2" r="4.0" fill="none" stroke="#222" stroke-width="1.0"/>
<polyline points="315.2,666.4 325.0,660.7 355.3,660.7" fill="none" stroke="#222" stroke-width="1.0" />
<line x1="316.2" y1="675.6" x2="355.3" y2="675.6" stroke="#222" stroke-width="1.0" />
<polyline points="315.2,686.6 325.0,690.3 355.3,690.3" fill="none" stroke="#222" stroke-width="1.0" />
<text class="s" x="366.6" y="663.0" font-size="7.66">u</text>
<text class="s" x="366.6" y="677.0" font-size="7.66">v</text>
<text class="s" x="366.4" y="691.6" font-size="7.66">w</text>
<text class="t" x="385.4" y="692.9" font-size="10.4" textLength="34.8" lengthAdjust="spacingAndGlyphs" transform="rotate(-90 385.4 692.9)">Motor</text>
<text class="t" x="367.9" y="726.1" font-size="10.4" textLength="99.2" lengthAdjust="spacingAndGlyphs">Motorsteuerung</text>
<text class="t" x="367.9" y="737.6" font-size="10.4" textLength="56.0" lengthAdjust="spacingAndGlyphs">Prototyp</text>
<text class="t" x="512.0" y="737.4" font-size="10.4" textLength="26.8" lengthAdjust="spacingAndGlyphs">Rev0</text>
<rect x="496.1" y="532.1" width="51.3" height="74.4" fill="none" stroke="#222" stroke-width="1.0" />
<line x1="543.0" y1="538.1" x2="592.8" y2="538.1" stroke="#222" stroke-width="1.0" />
<text class="s" x="541.4" y="540.8" font-size="7.19" textLength="13.0" lengthAdjust="spacingAndGlyphs" text-anchor="end">Gnd</text>
<text class="s" x="548.9" y="537.8" font-size="6.96">1</text>
<line x1="543.0" y1="545.0" x2="592.8" y2="545.0" stroke="#222" stroke-width="1.0" />
<text class="s" x="541.4" y="547.7" font-size="7.19" textLength="21.0" lengthAdjust="spacingAndGlyphs" text-anchor="end">Reset</text>
<text class="s" x="548.9" y="544.7" font-size="6.96">2</text>
<line x1="543.0" y1="551.9" x2="592.8" y2="551.9" stroke="#222" stroke-width="1.0" />
<text class="s" x="541.4" y="554.6" font-size="7.19" textLength="13.0" lengthAdjust="spacingAndGlyphs" text-anchor="end">Gnd</text>
<text class="s" x="548.9" y="551.6" font-size="6.96">3</text>
<line x1="533.8" y1="558.8" x2="541.8" y2="558.8" stroke="#222" stroke-width="1" stroke-dasharray="3.2 1.6"/>
<line x1="543.0" y1="558.8" x2="592.8" y2="558.8" stroke="#222" stroke-width="1.0" />
<text class="s" x="548.9" y="558.5" font-size="6.96">4</text>
<line x1="543.0" y1="565.7" x2="592.8" y2="565.7" stroke="#222" stroke-width="1.0" />
<text class="s" x="541.4" y="568.4" font-size="7.19" textLength="13.0" lengthAdjust="spacingAndGlyphs" text-anchor="end">Gnd</text>
<text class="s" x="548.9" y="565.4" font-size="6.96">5</text>
<line x1="543.0" y1="572.6" x2="592.8" y2="572.6" stroke="#222" stroke-width="1.0" />
<text class="s" x="542.9" y="575.4" font-size="7.19" textLength="13.0" lengthAdjust="spacingAndGlyphs" text-anchor="end">RXD</text>
<text class="s" x="548.9" y="572.4" font-size="6.96">6</text>
<line x1="533.8" y1="579.6" x2="541.8" y2="579.6" stroke="#222" stroke-width="1" stroke-dasharray="3.2 1.6"/>
<line x1="543.0" y1="579.6" x2="592.8" y2="579.6" stroke="#222" stroke-width="1.0" />
<text class="s" x="548.9" y="579.3" font-size="6.96">7</text>
<line x1="543.0" y1="586.5" x2="592.8" y2="586.5" stroke="#222" stroke-width="1.0" />
<text class="s" x="542.9" y="589.2" font-size="7.19" textLength="13.0" lengthAdjust="spacingAndGlyphs" text-anchor="end">TXD</text>
<text class="s" x="548.9" y="586.2" font-size="6.96">8</text>
<line x1="533.8" y1="593.4" x2="541.8" y2="593.4" stroke="#222" stroke-width="1" stroke-dasharray="3.2 1.6"/>
<line x1="543.0" y1="593.4" x2="592.8" y2="593.4" stroke="#222" stroke-width="1.0" />
<text class="s" x="548.9" y="593.1" font-size="6.96">9</text>
<line x1="533.8" y1="600.3" x2="541.8" y2="600.3" stroke="#222" stroke-width="1" stroke-dasharray="3.2 1.6"/>
<line x1="543.0" y1="600.3" x2="592.8" y2="600.3" stroke="#222" stroke-width="1.0" />
<text class="s" x="548.9" y="600.0" font-size="6.96" textLength="6.0" lengthAdjust="spacingAndGlyphs">10</text>
<line x1="592.8" y1="538.1" x2="592.8" y2="600.3" stroke="#222" stroke-width="1.0" />
<text class="t" x="504.9" y="600.6" font-size="10.4" textLength="41.4" lengthAdjust="spacingAndGlyphs" transform="rotate(-90 504.9 600.6)">Haupt-</text>
<text class="t" x="517.0" y="600.1" font-size="10.4" textLength="63.0" lengthAdjust="spacingAndGlyphs" transform="rotate(-90 517.0 600.1)">steuerung</text>
<rect x="791.7" y="458.3" width="187.0" height="286.4" fill="none" stroke="#222" stroke-width="1.0" />
<rect x="797.7" y="458.3" width="52.1" height="25.5" fill="none" stroke="#222" stroke-width="1.0" />
<circle cx="809.9" cy="458.3" r="4.3" fill="none" stroke="#222" stroke-width="1.0"/>
<circle cx="830.3" cy="458.3" r="4.3" fill="none" stroke="#222" stroke-width="1.0"/>
<text class="t" x="809.7" y="470.4" font-size="8" text-anchor="middle">+</text>
<text class="t" x="830.5" y="470.0" font-size="8" text-anchor="middle">−</text>
<text class="t" x="806.3" y="482.0" font-size="8.3" textLength="33.2" lengthAdjust="spacingAndGlyphs">24..48V</text>
<rect x="855.4" y="458.3" width="53.1" height="26.1" fill="none" stroke="#222" stroke-width="1.0" />
<text class="t" x="870.4" y="475.5" font-size="10.4" textLength="17.9" lengthAdjust="spacingAndGlyphs">ISP</text>
<rect x="921.7" y="458.3" width="51.0" height="34.4" fill="none" stroke="#222" stroke-width="1.0" />
<circle cx="933.5" cy="458.3" r="4.3" fill="none" stroke="#222" stroke-width="1.0"/>
<circle cx="946.6" cy="458.3" r="4.3" fill="none" stroke="#222" stroke-width="1.0"/>
<circle cx="962.0" cy="458.3" r="4.3" fill="none" stroke="#222" stroke-width="1.0"/>
<text class="t" x="936.3" y="490.8" font-size="10.4" textLength="28.6" lengthAdjust="spacingAndGlyphs" transform="rotate(-90 936.3 490.8)">+12V</text>
<text class="t" x="949.6" y="486.6" font-size="10.4" textLength="22.0" lengthAdjust="spacingAndGlyphs" transform="rotate(-90 949.6 486.6)">Fan</text>
<text class="t" x="965.9" y="485.8" font-size="10.4" textLength="22.0" lengthAdjust="spacingAndGlyphs" transform="rotate(-90 965.9 485.8)">Gnd</text>
<text class="t" x="932.3" y="452.4" font-size="8.6" transform="rotate(-90 932.3 452.4)">1</text>
<text class="t" x="946.4" y="452.0" font-size="8.6" transform="rotate(-90 946.4 452.0)">2</text>
<text class="t" x="962.6" y="451.8" font-size="8.6" transform="rotate(-90 962.6 451.8)">3</text>
<rect x="791.7" y="531.1" width="51.0" height="75.4" fill="none" stroke="#222" stroke-width="1.0" />
<line x1="705.0" y1="537.9" x2="797.7" y2="537.9" stroke="#222" stroke-width="1.0" />
<line x1="705.0" y1="537.9" x2="705.0" y2="630.9" stroke="#222" stroke-width="1.0" />
<text class="s" x="798.8" y="540.6" font-size="7.19" textLength="12.8" lengthAdjust="spacingAndGlyphs">Gnd</text>
<text class="s" x="784.5" y="537.6" font-size="6.96">1</text>
<line x1="713.6" y1="544.8" x2="797.7" y2="544.8" stroke="#222" stroke-width="1.0" />
<line x1="713.6" y1="544.8" x2="713.6" y2="630.9" stroke="#222" stroke-width="1.0" />
<text class="s" x="798.8" y="547.5" font-size="7.19" textLength="13.5" lengthAdjust="spacingAndGlyphs">+5V</text>
<text class="s" x="784.5" y="544.5" font-size="6.96">2</text>
<line x1="779.5" y1="551.8" x2="797.7" y2="551.8" stroke="#222" stroke-width="1.0" />
<line x1="799.0" y1="551.8" x2="807.0" y2="551.8" stroke="#222" stroke-width="1" stroke-dasharray="3.2 1.6"/>
<text class="s" x="784.5" y="551.5" font-size="6.96">3</text>
<line x1="779.5" y1="558.8" x2="797.7" y2="558.8" stroke="#222" stroke-width="1.0" />
<line x1="799.0" y1="558.8" x2="807.0" y2="558.8" stroke="#222" stroke-width="1" stroke-dasharray="3.2 1.6"/>
<text class="s" x="784.5" y="558.5" font-size="6.96">4</text>
<line x1="779.5" y1="565.7" x2="797.7" y2="565.7" stroke="#222" stroke-width="1.0" />
<line x1="799.0" y1="565.7" x2="807.0" y2="565.7" stroke="#222" stroke-width="1" stroke-dasharray="3.2 1.6"/>
<text class="s" x="784.5" y="565.4" font-size="6.96">5</text>
<line x1="779.5" y1="572.7" x2="797.7" y2="572.7" stroke="#222" stroke-width="1.0" />
<line x1="799.0" y1="572.7" x2="807.0" y2="572.7" stroke="#222" stroke-width="1" stroke-dasharray="3.2 1.6"/>
<text class="s" x="784.5" y="572.4" font-size="6.96">6</text>
<line x1="721.9" y1="579.7" x2="797.7" y2="579.7" stroke="#222" stroke-width="1.0" />
<line x1="721.9" y1="579.7" x2="721.9" y2="630.9" stroke="#222" stroke-width="1.0" />
<text class="s" x="798.8" y="582.4" font-size="7.19" textLength="21.4" lengthAdjust="spacingAndGlyphs">Hall_D</text>
<text class="s" x="784.5" y="579.4" font-size="6.96">7</text>
<line x1="730.3" y1="586.6" x2="797.7" y2="586.6" stroke="#222" stroke-width="1.0" />
<line x1="730.3" y1="586.6" x2="730.3" y2="630.9" stroke="#222" stroke-width="1.0" />
<text class="s" x="798.8" y="589.3" font-size="7.19" textLength="21.4" lengthAdjust="spacingAndGlyphs">Hall_C</text>
<text class="s" x="784.5" y="586.3" font-size="6.96">8</text>
<line x1="739.1" y1="593.6" x2="797.7" y2="593.6" stroke="#222" stroke-width="1.0" />
<line x1="739.1" y1="593.6" x2="739.1" y2="630.9" stroke="#222" stroke-width="1.0" />
<text class="s" x="798.8" y="596.3" font-size="7.19" textLength="21.4" lengthAdjust="spacingAndGlyphs">Hall_B</text>
<text class="s" x="784.5" y="593.3" font-size="6.96">9</text>
<line x1="745.7" y1="600.6" x2="797.7" y2="600.6" stroke="#222" stroke-width="1.0" />
<line x1="745.7" y1="600.6" x2="745.7" y2="630.9" stroke="#222" stroke-width="1.0" />
<text class="s" x="798.8" y="603.3" font-size="7.19" textLength="21.4" lengthAdjust="spacingAndGlyphs">Hall_A</text>
<text class="s" x="784.5" y="600.3" font-size="6.96" textLength="6.0" lengthAdjust="spacingAndGlyphs">10</text>
<text class="t" x="836.3" y="578.6" font-size="10.4" textLength="20.8" lengthAdjust="spacingAndGlyphs" transform="rotate(-90 836.3 578.6)">Hall</text>
<path d="M702.5,628.4 V630.0 A2.5,2.6 0 0 0 707.5,630.0 V628.4" fill="none" stroke="#222" stroke-width="0.9"/>
<line x1="705.0" y1="632.8" x2="705.0" y2="639.0" stroke="#222" stroke-width="1.0" />
<text class="s" x="704.2" y="627.9" font-size="6.5" text-anchor="end">2</text>
<path d="M711.1,628.4 V630.0 A2.5,2.6 0 0 0 716.1,630.0 V628.4" fill="none" stroke="#222" stroke-width="0.9"/>
<line x1="713.6" y1="632.8" x2="713.6" y2="639.0" stroke="#222" stroke-width="1.0" />
<text class="s" x="712.8" y="627.9" font-size="6.5" text-anchor="end">1</text>
<path d="M719.4,628.4 V630.0 A2.5,2.6 0 0 0 724.4,630.0 V628.4" fill="none" stroke="#222" stroke-width="0.9"/>
<line x1="721.9" y1="632.8" x2="721.9" y2="639.0" stroke="#222" stroke-width="1.0" />
<text class="s" x="721.1" y="627.9" font-size="6.5" text-anchor="end">6</text>
<path d="M727.8,628.4 V630.0 A2.5,2.6 0 0 0 732.8,630.0 V628.4" fill="none" stroke="#222" stroke-width="0.9"/>
<line x1="730.3" y1="632.8" x2="730.3" y2="639.0" stroke="#222" stroke-width="1.0" />
<text class="s" x="729.5" y="627.9" font-size="6.5" text-anchor="end">5</text>
<path d="M736.6,628.4 V630.0 A2.5,2.6 0 0 0 741.6,630.0 V628.4" fill="none" stroke="#222" stroke-width="0.9"/>
<line x1="739.1" y1="632.8" x2="739.1" y2="639.0" stroke="#222" stroke-width="1.0" />
<text class="s" x="738.3" y="627.9" font-size="6.5" text-anchor="end">4</text>
<path d="M743.2,628.4 V630.0 A2.5,2.6 0 0 0 748.2,630.0 V628.4" fill="none" stroke="#222" stroke-width="0.9"/>
<line x1="745.7" y1="632.8" x2="745.7" y2="639.0" stroke="#222" stroke-width="1.0" />
<text class="s" x="744.9" y="627.9" font-size="6.5" text-anchor="end">3</text>
<line x1="699.7" y1="639.0" x2="749.8" y2="639.0" stroke="#222" stroke-width="2" />
<line x1="723.7" y1="639.0" x2="723.7" y2="653.0" stroke="#222" stroke-width="1.8" />
<text class="t" x="751.5" y="626.1" font-size="10.4" textLength="34.3" lengthAdjust="spacingAndGlyphs">Sub-D</text>
<text class="t" x="751.5" y="638.0" font-size="10.4" textLength="30.0" lengthAdjust="spacingAndGlyphs">9-pol</text>
<circle cx="723.9" cy="677.1" r="24.1" fill="none" stroke="#222" stroke-width="1.0"/>
<text class="t" x="724.9" y="674.0" font-size="10" text-anchor="middle">M</text>
<text class="t" x="715.2" y="686.1" font-size="10.4" textLength="19.9" lengthAdjust="spacingAndGlyphs">3Ph</text>
<text class="s" x="708.4" y="711.2" font-size="6.96" textLength="43.3" lengthAdjust="spacingAndGlyphs">48V= / 1KW</text>
<text class="s" x="708.4" y="718.4" font-size="6.96" textLength="29.4" lengthAdjust="spacingAndGlyphs">456 RPM</text>
<rect x="791.7" y="649.8" width="34.5" height="53.7" fill="none" stroke="#222" stroke-width="1.0" />
<circle cx="791.3" cy="661.1" r="4.0" fill="none" stroke="#222" stroke-width="1.0"/>
<circle cx="791.3" cy="675.0" r="4.0" fill="none" stroke="#222" stroke-width="1.0"/>
<circle cx="791.3" cy="689.6" r="4.0" fill="none" stroke="#222" stroke-width="1.0"/>
<polyline points="747.2,666.8 757.0,661.1 787.3,661.1" fill="none" stroke="#222" stroke-width="1.0" />
<line x1="748.2" y1="676.0" x2="787.3" y2="676.0" stroke="#222" stroke-width="1.0" />
<polyline points="747.2,687.0 757.0,690.6 787.3,690.6" fill="none" stroke="#222" stroke-width="1.0" />
<text class="s" x="798.6" y="663.4" font-size="7.66">u</text>
<text class="s" x="798.6" y="677.4" font-size="7.66">v</text>
<text class="s" x="798.4" y="692.0" font-size="7.66">w</text>
<text class="t" x="817.4" y="693.2" font-size="10.4" textLength="34.8" lengthAdjust="spacingAndGlyphs" transform="rotate(-90 817.4 693.2)">Motor</text>
<text class="t" x="799.9" y="726.5" font-size="10.4" textLength="99.2" lengthAdjust="spacingAndGlyphs">Motorsteuerung</text>
<text class="t" x="799.9" y="738.0" font-size="10.4" textLength="56.0" lengthAdjust="spacingAndGlyphs">Prototyp</text>
<text class="t" x="944.0" y="737.8" font-size="10.4" textLength="26.8" lengthAdjust="spacingAndGlyphs">Rev0</text>
<rect x="928.1" y="531.5" width="50.6" height="75.4" fill="none" stroke="#222" stroke-width="1.0" />
<line x1="975.0" y1="538.5" x2="1020.7" y2="538.5" stroke="#222" stroke-width="1.0" />
<text class="s" x="973.4" y="541.2" font-size="7.19" textLength="13.0" lengthAdjust="spacingAndGlyphs" text-anchor="end">Gnd</text>
<text class="s" x="980.9" y="538.2" font-size="6.96">1</text>
<line x1="975.0" y1="545.4" x2="1020.7" y2="545.4" stroke="#222" stroke-width="1.0" />
<text class="s" x="973.4" y="548.1" font-size="7.19" textLength="21.0" lengthAdjust="spacingAndGlyphs" text-anchor="end">Reset</text>
<text class="s" x="980.9" y="545.1" font-size="6.96">2</text>
<line x1="975.0" y1="552.3" x2="1020.7" y2="552.3" stroke="#222" stroke-width="1.0" />
<text class="s" x="973.4" y="555.0" font-size="7.19" textLength="13.0" lengthAdjust="spacingAndGlyphs" text-anchor="end">Gnd</text>
<text class="s" x="980.9" y="552.0" font-size="6.96">3</text>
<line x1="965.8" y1="559.2" x2="973.8" y2="559.2" stroke="#222" stroke-width="1" stroke-dasharray="3.2 1.6"/>
<line x1="975.0" y1="559.2" x2="1020.7" y2="559.2" stroke="#222" stroke-width="1.0" />
<text class="s" x="980.9" y="558.9" font-size="6.96">4</text>
<line x1="975.0" y1="566.1" x2="1020.7" y2="566.1" stroke="#222" stroke-width="1.0" />
<text class="s" x="973.4" y="568.8" font-size="7.19" textLength="13.0" lengthAdjust="spacingAndGlyphs" text-anchor="end">Gnd</text>
<text class="s" x="980.9" y="565.8" font-size="6.96">5</text>
<line x1="975.0" y1="573.0" x2="1020.7" y2="573.0" stroke="#222" stroke-width="1.0" />
<text class="s" x="974.9" y="575.7" font-size="7.19" textLength="13.0" lengthAdjust="spacingAndGlyphs" text-anchor="end">RXD</text>
<text class="s" x="980.9" y="572.7" font-size="6.96">6</text>
<line x1="965.8" y1="579.9" x2="973.8" y2="579.9" stroke="#222" stroke-width="1" stroke-dasharray="3.2 1.6"/>
<line x1="975.0" y1="579.9" x2="1020.7" y2="579.9" stroke="#222" stroke-width="1.0" />
<text class="s" x="980.9" y="579.6" font-size="6.96">7</text>
<line x1="975.0" y1="586.8" x2="1020.7" y2="586.8" stroke="#222" stroke-width="1.0" />
<text class="s" x="974.9" y="589.5" font-size="7.19" textLength="13.0" lengthAdjust="spacingAndGlyphs" text-anchor="end">TXD</text>
<text class="s" x="980.9" y="586.5" font-size="6.96">8</text>
<line x1="965.8" y1="593.7" x2="973.8" y2="593.7" stroke="#222" stroke-width="1" stroke-dasharray="3.2 1.6"/>
<line x1="975.0" y1="593.7" x2="1020.7" y2="593.7" stroke="#222" stroke-width="1.0" />
<text class="s" x="980.9" y="593.4" font-size="6.96">9</text>
<line x1="965.8" y1="600.6" x2="973.8" y2="600.6" stroke="#222" stroke-width="1" stroke-dasharray="3.2 1.6"/>
<line x1="975.0" y1="600.6" x2="1020.7" y2="600.6" stroke="#222" stroke-width="1.0" />
<text class="s" x="980.9" y="600.3" font-size="6.96" textLength="6.0" lengthAdjust="spacingAndGlyphs">10</text>
<line x1="1020.7" y1="538.5" x2="1020.7" y2="600.6" stroke="#222" stroke-width="1.0" />
<text class="t" x="936.9" y="601.0" font-size="10.4" textLength="41.4" lengthAdjust="spacingAndGlyphs" transform="rotate(-90 936.9 601.0)">Haupt-</text>
<text class="t" x="949.0" y="600.5" font-size="10.4" textLength="63.0" lengthAdjust="spacingAndGlyphs" transform="rotate(-90 949.0 600.5)">steuerung</text>
<circle cx="542.9" cy="370.7" r="18.2" fill="none" stroke="#222" stroke-width="1.0"/>
<text class="t" x="542.9" y="365.4" font-size="8.6" text-anchor="middle">M</text>
<text class="t" x="529.6" y="377.6" font-size="10.4" textLength="27.2" lengthAdjust="spacingAndGlyphs">12V=</text>
<line x1="533.2" y1="386.3" x2="501.5" y2="454.3" stroke="#222" stroke-width="1.0" />
<line x1="551.4" y1="386.8" x2="514.6" y2="454.7" stroke="#222" stroke-width="1.0" />
<line x1="500.6" y1="427.5" x2="531.1" y2="427.5" stroke="#000" stroke-width="3.2" />
<line x1="500.6" y1="427.5" x2="500.6" y2="454.6" stroke="#222" stroke-width="1.0" />
<line x1="530.0" y1="427.5" x2="530.0" y2="454.6" stroke="#222" stroke-width="1.0" />
<text class="t" x="498.9" y="428.6" font-size="11.8" textLength="49.3" lengthAdjust="spacingAndGlyphs" transform="rotate(-90 498.9 428.6)">Swarz!!!</text>
<text class="t" x="539.6" y="428.6" font-size="11.8" textLength="32.2" lengthAdjust="spacingAndGlyphs" transform="rotate(-90 539.6 428.6)">Rot!!!</text>
<circle cx="941.0" cy="396.1" r="18.1" fill="none" stroke="#222" stroke-width="1.0"/>
<text class="t" x="941.0" y="390.8" font-size="8.6" text-anchor="middle">M</text>
<text class="t" x="928.1" y="403.2" font-size="10.4" textLength="26.2" lengthAdjust="spacingAndGlyphs">12V=</text>
<line x1="934.1" y1="413.0" x2="934.1" y2="453.6" stroke="#222" stroke-width="1.0" />
<line x1="946.8" y1="413.0" x2="946.8" y2="453.6" stroke="#222" stroke-width="1.0" />
<line x1="657.6" y1="352.4" x2="1044.9" y2="352.4" stroke="#333" stroke-width="1" stroke-dasharray="35.7 18" stroke-dashoffset="12.2"/>
<line x1="657.6" y1="756.5" x2="1044.9" y2="756.5" stroke="#333" stroke-width="1" stroke-dasharray="35.7 18" stroke-dashoffset="12.2"/>
<line x1="657.6" y1="352.4" x2="657.6" y2="756.5" stroke="#333" stroke-width="1" stroke-dasharray="35.7 18" stroke-dashoffset="3.7"/>
<line x1="1044.9" y1="352.4" x2="1044.9" y2="756.5" stroke="#333" stroke-width="1" stroke-dasharray="35.7 18" stroke-dashoffset="3.7"/>
<text class="t" x="668.5" y="366.8" font-size="10.2" textLength="101.1" lengthAdjust="spacingAndGlyphs">Nur beim Segway</text>
<line x1="464.6" y1="268.2" x2="464.6" y2="331.9" stroke="#000" stroke-width="3.2" stroke-linecap="round"/>
<polyline points="464.6,278.6 603.9,278.6 603.9,563.2" fill="none" stroke="#000" stroke-width="3.2" />
<polyline points="603.9,563.2 592.8,568.6 604.3,572.9 604.3,770.1 1032.9,770.1" fill="none" stroke="#111" stroke-width="1.15" />
<line x1="1032.9" y1="571.5" x2="1032.9" y2="771.5" stroke="#000" stroke-width="3.4" stroke-linecap="round"/>
<line x1="1020.7" y1="566.0" x2="1031.4" y2="571.1" stroke="#222" stroke-width="1.0" />
<line x1="718.9" y1="253.6" x2="741.6" y2="253.6" stroke="#000" stroke-width="2.8" stroke-linecap="round"/>
<polyline points="731.0,253.6 731.0,320.8 515.0,320.8 515.0,427.5" fill="none" stroke="#000" stroke-width="1.55" />
<text class="t" x="678.6" y="125.4" font-size="10.4" textLength="101.0" lengthAdjust="spacingAndGlyphs">Sicht von unten</text>
<rect x="675.6" y="132.5" width="256.8" height="104.6" fill="none" stroke="#222" stroke-width="1.0" />
<circle cx="675.8" cy="167.5" r="4.3" fill="none" stroke="#222" stroke-width="1.0"/>
<text class="t" x="684.2" y="171.7" font-size="10.4" textLength="20.6" lengthAdjust="spacingAndGlyphs">Gnd</text>
<text class="s" x="665.5" y="166.3" font-size="6.5">7</text>
<circle cx="675.8" cy="181.2" r="4.3" fill="none" stroke="#222" stroke-width="1.0"/>
<text class="t" x="684.2" y="185.4" font-size="10.4" textLength="13.9" lengthAdjust="spacingAndGlyphs">Rx</text>
<text class="s" x="665.5" y="180.0" font-size="6.5">5</text>
<circle cx="675.8" cy="194.6" r="4.3" fill="none" stroke="#222" stroke-width="1.0"/>
<text class="t" x="684.2" y="198.8" font-size="10.4" textLength="13.9" lengthAdjust="spacingAndGlyphs">Tx</text>
<text class="s" x="665.5" y="193.4" font-size="6.5">4</text>
<line x1="707.8" y1="140.2" x2="826.4" y2="140.2" stroke="#3a3a3a" stroke-width="1.15" stroke-dasharray="14.5 7.14" stroke-dashoffset="1.5"/>
<line x1="707.8" y1="224.4" x2="826.4" y2="224.4" stroke="#3a3a3a" stroke-width="1.15" stroke-dasharray="14.5 7.14" stroke-dashoffset="1.5"/>
<line x1="707.8" y1="140.2" x2="707.8" y2="224.4" stroke="#3a3a3a" stroke-width="1.15" stroke-dasharray="17 7 14.6 7 14.6 7 17"/>
<line x1="826.4" y1="140.2" x2="826.4" y2="224.4" stroke="#3a3a3a" stroke-width="1.15" stroke-dasharray="17 7 14.6 7 14.6 7 17"/>
<rect x="702.9" y="211.1" width="52.6" height="26.0" fill="none" stroke="#222" stroke-width="1.0" />
<text class="t" x="722.7" y="220.2" font-size="8" textLength="15.5" lengthAdjust="spacingAndGlyphs">12V</text>
<text class="t" x="719.7" y="230.1" font-size="7" text-anchor="middle">+</text>
<text class="t" x="740.9" y="229.7" font-size="7" text-anchor="middle">−</text>
<circle cx="720.0" cy="237.1" r="4.4" fill="none" stroke="#222" stroke-width="1.0"/>
<circle cx="740.0" cy="237.1" r="4.4" fill="none" stroke="#222" stroke-width="1.0"/>
<line x1="720.0" y1="241.5" x2="720.0" y2="253.6" stroke="#222" stroke-width="1.0" />
<line x1="740.0" y1="241.5" x2="740.0" y2="253.6" stroke="#222" stroke-width="1.0" />
<text class="t" x="845.8" y="232.9" font-size="10.4" textLength="72.3" lengthAdjust="spacingAndGlyphs">Display 3000</text>
<line x1="873.7" y1="149.1" x2="873.7" y2="159.1" stroke="#222" stroke-width="1.0" />
<line x1="868.6" y1="157.0" x2="873.7" y2="164.0" stroke="#222" stroke-width="1.0" />
<line x1="873.7" y1="164.0" x2="873.7" y2="170.5" stroke="#222" stroke-width="1.0" />
<line x1="854.6" y1="172.6" x2="854.6" y2="182.6" stroke="#222" stroke-width="1.0" />
<line x1="849.5" y1="180.5" x2="854.6" y2="187.5" stroke="#222" stroke-width="1.0" />
<line x1="854.6" y1="187.5" x2="854.6" y2="194.0" stroke="#222" stroke-width="1.0" />
<line x1="897.6" y1="172.6" x2="897.6" y2="182.6" stroke="#222" stroke-width="1.0" />
<line x1="892.5" y1="180.5" x2="897.6" y2="187.5" stroke="#222" stroke-width="1.0" />
<line x1="897.6" y1="187.5" x2="897.6" y2="194.0" stroke="#222" stroke-width="1.0" />
<line x1="874.4" y1="196.2" x2="874.4" y2="206.2" stroke="#222" stroke-width="1.0" />
<line x1="869.3" y1="204.1" x2="874.4" y2="211.1" stroke="#222" stroke-width="1.0" />
<line x1="874.4" y1="211.1" x2="874.4" y2="217.6" stroke="#222" stroke-width="1.0" />
<polyline points="484.8,146.2 641.8,146.2 641.8,167.5 671.5,167.5" fill="none" stroke="#222" stroke-width="1.0" />
<polyline points="490.3,146.2 495.3,154.1 568.1,154.1 568.1,260.3" fill="none" stroke="#222" stroke-width="1.0" />
<polyline points="484.8,160.4 635.5,160.4 635.5,194.6 671.5,194.6" fill="none" stroke="#222" stroke-width="1.0" />
<polyline points="484.8,167.4 626.0,167.4 626.0,181.2 671.5,181.2" fill="none" stroke="#222" stroke-width="1.0" />
<polyline points="484.8,174.2 563.7,174.2 563.7,231.5" fill="none" stroke="#222" stroke-width="1.0" />
<polyline points="484.8,181.1 542.7,181.1 542.7,228.4" fill="none" stroke="#222" stroke-width="1.0" />
<line x1="542.7" y1="240.3" x2="542.7" y2="260.3" stroke="#222" stroke-width="1.0" />
<polyline points="484.8,188.2 534.3,188.2 534.3,228.4" fill="none" stroke="#222" stroke-width="1.0" />
<line x1="534.3" y1="240.3" x2="534.3" y2="260.3" stroke="#222" stroke-width="1.0" />
<polyline points="484.8,195.1 525.2,195.1 525.2,228.4" fill="none" stroke="#222" stroke-width="1.0" />
<line x1="525.2" y1="240.3" x2="525.2" y2="260.3" stroke="#222" stroke-width="1.0" />
<polyline points="484.8,201.7 516.6,201.7 516.6,228.4" fill="none" stroke="#222" stroke-width="1.0" />
<line x1="516.6" y1="240.3" x2="516.6" y2="260.3" stroke="#222" stroke-width="1.0" />
<polyline points="484.8,208.3 508.1,208.3 508.1,228.4" fill="none" stroke="#222" stroke-width="1.0" />
<line x1="508.1" y1="240.3" x2="508.1" y2="260.3" stroke="#222" stroke-width="1.0" />
<text class="s" x="570.8" y="144.0" font-size="7.19" textLength="22.2" lengthAdjust="spacingAndGlyphs">Schirm</text>
<text class="s" x="571.2" y="159.0" font-size="7.19" textLength="17.0" lengthAdjust="spacingAndGlyphs">Grün</text>
<text class="s" x="571.2" y="166.0" font-size="7.19" textLength="12.3" lengthAdjust="spacingAndGlyphs">Rot</text>
<text class="s" x="498.7" y="151.7" font-size="7.19" textLength="13.9" lengthAdjust="spacingAndGlyphs">gelb</text>
<text class="s" x="499.5" y="172.8" font-size="7.19" textLength="9.1" lengthAdjust="spacingAndGlyphs">lila</text>
<text class="s" x="500.4" y="179.7" font-size="7.19" textLength="29.0" lengthAdjust="spacingAndGlyphs">schwarz</text>
<text class="s" x="500.4" y="186.8" font-size="7.19" textLength="11.7" lengthAdjust="spacingAndGlyphs">rot</text>
<text class="s" x="500.4" y="193.7" font-size="7.19" textLength="14.5" lengthAdjust="spacingAndGlyphs">blau</text>
<text class="s" x="500.4" y="200.3" font-size="7.19" textLength="15.1" lengthAdjust="spacingAndGlyphs">rosa</text>
<text class="s" x="499.3" y="206.9" font-size="7.19" textLength="16.8" lengthAdjust="spacingAndGlyphs">grau</text>
<text class="t" x="609.0" y="136.6" font-size="10.4" textLength="50.2" lengthAdjust="spacingAndGlyphs">3x0,2mm2</text>
<line x1="620.4" y1="138.4" x2="597.7" y2="171.1" stroke="#222" stroke-width="1.0" />
<text class="t" x="575.0" y="199.5" font-size="10.4" textLength="53.9" lengthAdjust="spacingAndGlyphs">12x0,1mm2</text>
<line x1="575.0" y1="195.7" x2="503.4" y2="211.6" stroke="#222" stroke-width="1.0" />
<line x1="502.9" y1="214.4" x2="575.5" y2="214.4" stroke="#111" stroke-width="1.5" stroke-dasharray="11.3 5.1" stroke-dashoffset="1.9"/>
<line x1="502.9" y1="270.3" x2="575.5" y2="270.3" stroke="#111" stroke-width="1.5" stroke-dasharray="11.3 5.1" stroke-dashoffset="1.9"/>
<line x1="502.9" y1="214.4" x2="502.9" y2="270.3" stroke="#111" stroke-width="1.5" stroke-dasharray="9.2 5.3 11 5.3 11 5.3 9.2"/>
<line x1="575.5" y1="214.4" x2="575.5" y2="270.3" stroke="#111" stroke-width="1.5" stroke-dasharray="9.2 5.3 11 5.3 11 5.3 9.2"/>
<rect x="539.0" y="228.4" width="7.4" height="11.9" fill="none" stroke="#222" stroke-width="1.0" />
<polyline points="540.9,233.2 544.5,236.8" fill="none" stroke="#222" stroke-width="0.8" />
<polyline points="544.5,233.2 540.9,236.8" fill="none" stroke="#222" stroke-width="0.8" />
<line x1="540.3" y1="238.3" x2="545.1" y2="238.3" stroke="#222" stroke-width="0.8" />
<polyline points="539.1,249.1 542.7,255.3 546.3,249.1" fill="none" stroke="#222" stroke-width="0.9" />
<line x1="539.1" y1="255.3" x2="546.3" y2="255.3" stroke="#222" stroke-width="0.9" />
<polyline points="543.7,255.0 545.1,250.6 546.5,255.0" fill="none" stroke="#222" stroke-width="0.7" />
<line x1="544.3" y1="253.3" x2="545.9" y2="253.3" stroke="#222" stroke-width="0.7" />
<circle cx="542.7" cy="260.3" r="1.1" fill="#111"/>
<rect x="530.6" y="228.4" width="7.4" height="11.9" fill="none" stroke="#222" stroke-width="1.0" />
<polyline points="532.5,233.2 536.1,236.8" fill="none" stroke="#222" stroke-width="0.8" />
<polyline points="536.1,233.2 532.5,236.8" fill="none" stroke="#222" stroke-width="0.8" />
<line x1="531.9" y1="238.3" x2="536.7" y2="238.3" stroke="#222" stroke-width="0.8" />
<polyline points="530.7,249.1 534.3,255.3 537.9,249.1" fill="none" stroke="#222" stroke-width="0.9" />
<line x1="530.7" y1="255.3" x2="537.9" y2="255.3" stroke="#222" stroke-width="0.9" />
<polyline points="535.3,255.0 536.7,250.6 538.1,255.0" fill="none" stroke="#222" stroke-width="0.7" />
<line x1="535.9" y1="253.3" x2="537.5" y2="253.3" stroke="#222" stroke-width="0.7" />
<circle cx="534.3" cy="260.3" r="1.1" fill="#111"/>
<rect x="521.5" y="228.4" width="7.4" height="11.9" fill="none" stroke="#222" stroke-width="1.0" />
<polyline points="523.4,233.2 527.0,236.8" fill="none" stroke="#222" stroke-width="0.8" />
<polyline points="527.0,233.2 523.4,236.8" fill="none" stroke="#222" stroke-width="0.8" />
<line x1="522.8" y1="238.3" x2="527.6" y2="238.3" stroke="#222" stroke-width="0.8" />
<polyline points="521.6,249.1 525.2,255.3 528.8,249.1" fill="none" stroke="#222" stroke-width="0.9" />
<line x1="521.6" y1="255.3" x2="528.8" y2="255.3" stroke="#222" stroke-width="0.9" />
<polyline points="526.2,255.0 527.6,250.6 529.0,255.0" fill="none" stroke="#222" stroke-width="0.7" />
<line x1="526.8" y1="253.3" x2="528.4" y2="253.3" stroke="#222" stroke-width="0.7" />
<circle cx="525.2" cy="260.3" r="1.1" fill="#111"/>
<rect x="512.9" y="228.4" width="7.4" height="11.9" fill="none" stroke="#222" stroke-width="1.0" />
<polyline points="514.8,233.2 518.4,236.8" fill="none" stroke="#222" stroke-width="0.8" />
<polyline points="518.4,233.2 514.8,236.8" fill="none" stroke="#222" stroke-width="0.8" />
<line x1="514.2" y1="238.3" x2="519.0" y2="238.3" stroke="#222" stroke-width="0.8" />
<polyline points="513.0,249.1 516.6,255.3 520.2,249.1" fill="none" stroke="#222" stroke-width="0.9" />
<line x1="513.0" y1="255.3" x2="520.2" y2="255.3" stroke="#222" stroke-width="0.9" />
<polyline points="517.6,255.0 519.0,250.6 520.4,255.0" fill="none" stroke="#222" stroke-width="0.7" />
<line x1="518.2" y1="253.3" x2="519.8" y2="253.3" stroke="#222" stroke-width="0.7" />
<circle cx="516.6" cy="260.3" r="1.1" fill="#111"/>
<rect x="504.4" y="228.4" width="7.4" height="11.9" fill="none" stroke="#222" stroke-width="1.0" />
<polyline points="506.3,233.2 509.9,236.8" fill="none" stroke="#222" stroke-width="0.8" />
<polyline points="509.9,233.2 506.3,236.8" fill="none" stroke="#222" stroke-width="0.8" />
<line x1="505.7" y1="238.3" x2="510.5" y2="238.3" stroke="#222" stroke-width="0.8" />
<polyline points="504.5,249.1 508.1,255.3 511.7,249.1" fill="none" stroke="#222" stroke-width="0.9" />
<line x1="504.5" y1="255.3" x2="511.7" y2="255.3" stroke="#222" stroke-width="0.9" />
<polyline points="509.1,255.0 510.5,250.6 511.9,255.0" fill="none" stroke="#222" stroke-width="0.7" />
<line x1="509.7" y1="253.3" x2="511.3" y2="253.3" stroke="#222" stroke-width="0.7" />
<line x1="502.9" y1="249.1" x2="546.2" y2="249.1" stroke="#222" stroke-width="1.0" />
<line x1="508.1" y1="260.3" x2="568.1" y2="260.3" stroke="#222" stroke-width="1.0" />
<circle cx="563.7" cy="260.3" r="1.1" fill="#111"/>
<polyline points="553.7,229.7 551.9,229.7 551.9,237.7 553.7,237.7" fill="none" stroke="#222" stroke-width="1.0" />
<line x1="551.9" y1="232.5" x2="559.9" y2="232.5" stroke="#222" stroke-width="1.0" />
<line x1="559.9" y1="230.6" x2="563.7" y2="237.2" stroke="#222" stroke-width="1.0" />
<line x1="563.7" y1="237.2" x2="563.7" y2="260.3" stroke="#222" stroke-width="1.0" />
<text class="s" x="518.1" y="267.6" font-size="7.42" textLength="16.6" lengthAdjust="spacingAndGlyphs">Akku</text>
<text class="s" x="548.4" y="267.6" font-size="7.42" textLength="21.2" lengthAdjust="spacingAndGlyphs">Reset</text>
</svg>
</body></html>
